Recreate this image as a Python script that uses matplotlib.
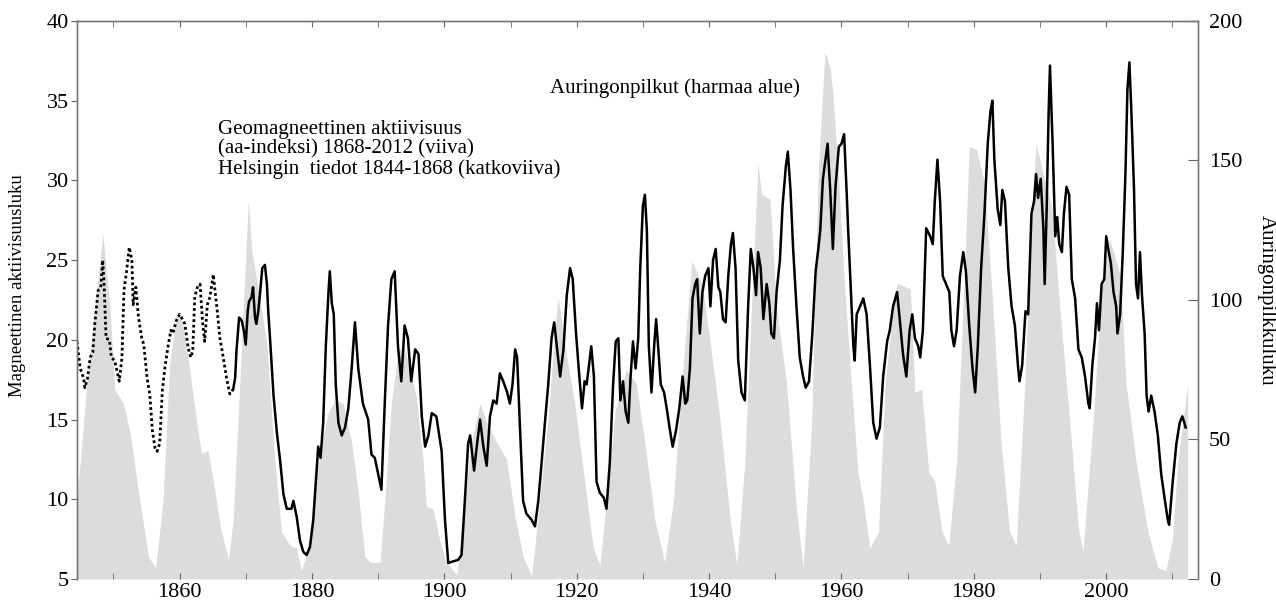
import matplotlib
matplotlib.use('Agg')
import matplotlib.pyplot as plt
from matplotlib.ticker import MultipleLocator

# Auringonpilkkuluku (harmaa alue), oikea akseli
ss_years = [1844.5, 1846.0, 1847.5, 1848.4, 1849.5, 1850.2, 1851.5, 1852.5, 1854.0, 1855.3,
            1856.4, 1857.5, 1858.5, 1859.6, 1860.3, 1861.3, 1862.6, 1863.3, 1864.3, 1865.1,
            1866.3, 1867.4, 1868.1, 1869.1, 1869.9, 1870.4, 1870.9, 1871.9, 1873.2, 1874.4,
            1875.4, 1876.7, 1877.7, 1878.4, 1879.4, 1880.5, 1881.5, 1882.5, 1883.5, 1884.7,
            1886.0, 1887.0, 1888.0, 1888.8, 1890.3, 1891.0, 1892.0, 1893.0, 1893.8, 1894.8,
            1895.8, 1896.8, 1897.3, 1898.3, 1899.3, 1900.3, 1901.9, 1903.1, 1904.1, 1905.4,
            1906.4, 1907.9, 1909.4, 1910.7, 1911.9, 1913.2, 1914.4, 1915.7, 1916.7, 1917.2,
            1918.2, 1919.7, 1921.2, 1922.5, 1923.5, 1924.5, 1925.8, 1927.5, 1929.0, 1930.3,
            1931.8, 1933.3, 1934.6, 1936.1, 1937.4, 1938.9, 1940.1, 1941.6, 1943.2, 1944.2,
            1945.4, 1946.4, 1947.4, 1947.9, 1949.2, 1950.2, 1951.7, 1953.2, 1954.2, 1955.5,
            1956.5, 1957.5, 1958.3, 1958.7, 1959.5, 1960.5, 1961.5, 1962.5, 1963.3, 1964.3,
            1965.6, 1966.6, 1967.8, 1968.4, 1970.4, 1971.1, 1972.1, 1973.2, 1974.1, 1975.2,
            1976.2, 1977.4, 1978.6, 1979.3, 1980.4, 1981.6, 1982.9, 1984.1, 1985.4, 1986.4,
            1987.7, 1988.7, 1989.4, 1990.5, 1991.8, 1993.0, 1994.5, 1995.8, 1996.5, 1998.0,
            1999.3, 2000.5, 2002.1, 2003.0, 2004.5, 2006.3, 2007.8, 2009.0, 2010.0, 2010.8,
            2012.3]
ss_values = [28, 70, 104, 124, 97, 68, 63, 53, 28, 8,
             4, 28, 77, 95, 94, 79, 56, 45, 46, 35,
             17, 7, 21, 70, 111, 136, 118, 104, 84, 42,
             17, 12, 11, 3, 10, 35, 49, 60, 64, 63,
             49, 31, 8, 6, 6, 28, 63, 81, 84, 75,
             65, 42, 26, 25, 14, 6, 1.5, 28, 49, 63,
             56, 49, 43, 22, 8, 1, 28, 58, 90, 101,
             84, 63, 35, 11, 5, 28, 60, 75, 70, 49,
             21, 6, 28, 77, 114, 106, 86, 58, 21, 5,
             42, 97, 149, 138, 136, 97, 70, 25, 4, 56,
             146, 189, 183, 174, 146, 104, 70, 38, 28, 11,
             17, 70, 97, 106, 104, 67, 68, 38, 35, 17,
             12, 42, 111, 155, 154, 142, 97, 49, 17, 12,
             70, 131, 156, 145, 133, 97, 56, 18, 10, 56,
             104, 122, 109, 70, 42, 17, 4, 3, 14, 42,
             70]

# Helsingin tiedot 1844-1868 (katkoviiva)
hel_years = [1844.5, 1845.0, 1845.5, 1845.7, 1846.1, 1846.5, 1846.9, 1847.2, 1847.7, 1848.1,
             1848.4, 1848.6, 1848.9, 1849.4, 1849.7, 1850.2, 1850.9, 1851.3, 1851.6, 1852.0,
             1852.4, 1852.8, 1853.0, 1853.4, 1853.8, 1854.3, 1854.6, 1855.1, 1855.5, 1855.9,
             1856.3, 1856.6, 1857.0, 1857.4, 1857.8, 1858.3, 1858.7, 1859.0, 1859.5, 1860.0,
             1860.3, 1860.8, 1861.3, 1861.7, 1862.0, 1862.3, 1862.7, 1863.1, 1863.5, 1863.8,
             1864.2, 1864.6, 1865.1, 1865.35, 1865.7, 1866.1, 1866.6, 1867.1, 1867.6, 1868.1]
hel_aa = [19.9, 18.2, 17.6, 17.0, 17.6, 18.9, 19.2, 21.0, 23.1, 23.3,
          25.0, 23.5, 20.1, 20.0, 18.9, 18.7, 17.4, 18.9, 23.1, 24.3,
          25.8, 25.0, 22.2, 23.3, 21.4, 20.1, 19.7, 17.6, 16.6, 14.3,
          13.2, 13.0, 13.5, 16.8, 18.3, 19.7, 20.6, 20.4, 21.2, 21.6,
          21.4, 21.0, 19.5, 18.9, 19.3, 22.7, 23.3, 23.5, 21.0, 19.9,
          22.2, 22.7, 24.1, 23.1, 21.8, 20.1, 18.9, 17.6, 16.6, 16.9]

# aa-indeksi 1868-2012 (viiva)
aa_years = [1868.1, 1868.4, 1868.6, 1869.0, 1869.4, 1869.7, 1870.0, 1870.3, 1870.5, 1870.9,
            1871.1, 1871.4, 1871.6, 1871.9, 1872.2, 1872.5, 1872.9, 1873.2, 1873.4, 1873.7,
            1874.2, 1874.7, 1875.2, 1875.7, 1876.2, 1876.9, 1877.2, 1877.7, 1878.2, 1878.7,
            1879.2, 1879.7, 1880.2, 1880.6, 1880.95, 1881.3, 1881.7, 1882.1, 1882.5, 1882.7,
            1883.0, 1883.3, 1883.6, 1884.0, 1884.5, 1885.0, 1885.5, 1886.0, 1886.5, 1887.0,
            1887.7, 1888.5, 1889.0, 1889.5, 1890.0, 1890.5, 1891.0, 1891.5, 1892.0, 1892.5,
            1893.0, 1893.5, 1894.0, 1894.5, 1895.0, 1895.6, 1896.1, 1896.6, 1897.1, 1897.6,
            1898.1, 1898.8, 1899.6, 1900.1, 1900.6, 1901.3, 1902.1, 1902.6, 1903.1, 1903.6,
            1903.9, 1904.5, 1904.9, 1905.4, 1905.9, 1906.4, 1906.9, 1907.4, 1907.9, 1908.4,
            1908.9, 1909.5, 1909.9, 1910.3, 1910.7, 1911.0, 1911.4, 1911.9, 1912.4, 1913.2,
            1913.7, 1914.2, 1914.7, 1915.2, 1915.7, 1916.2, 1916.6, 1917.0, 1917.5, 1918.0,
            1918.5, 1919.0, 1919.4, 1919.9, 1920.4, 1920.8, 1921.2, 1921.5, 1921.8, 1922.2,
            1922.6, 1923.0, 1923.5, 1924.1, 1924.5, 1925.0, 1925.5, 1925.9, 1926.3, 1926.6,
            1927.0, 1927.4, 1927.8, 1928.1, 1928.5, 1928.9, 1929.3, 1929.6, 1930.0, 1930.3,
            1930.6, 1930.9, 1931.3, 1931.7, 1932.0, 1932.3, 1932.7, 1933.2, 1933.6, 1934.1,
            1934.5, 1935.0, 1935.5, 1936.0, 1936.4, 1936.7, 1937.1, 1937.5, 1937.9, 1938.2,
            1938.6, 1939.0, 1939.4, 1939.9, 1940.2, 1940.6, 1941.0, 1941.4, 1941.7, 1942.1,
            1942.5, 1942.9, 1943.3, 1943.6, 1944.0, 1944.4, 1944.9, 1945.4, 1945.9, 1946.3,
            1946.7, 1947.1, 1947.4, 1947.8, 1948.2, 1948.7, 1949.1, 1949.4, 1949.8, 1950.2,
            1950.7, 1951.1, 1951.6, 1951.9, 1952.3, 1952.7, 1953.2, 1953.7, 1954.2, 1954.6,
            1955.1, 1955.6, 1956.1, 1956.5, 1956.8, 1957.2, 1957.9, 1958.3, 1958.7, 1959.1,
            1959.6, 1960.0, 1960.4, 1960.8, 1961.0, 1961.4, 1961.8, 1962.0, 1962.3, 1962.8,
            1963.3, 1963.8, 1964.3, 1964.8, 1965.3, 1965.8, 1966.3, 1966.9, 1967.3, 1967.8,
            1968.4, 1968.8, 1969.3, 1969.8, 1970.3, 1970.7, 1971.1, 1971.6, 1971.9, 1972.3,
            1972.8, 1973.4, 1973.8, 1974.1, 1974.5, 1974.9, 1975.3, 1975.8, 1976.3, 1976.6,
            1977.0, 1977.4, 1977.9, 1978.4, 1978.8, 1979.3, 1979.8, 1980.2, 1980.6, 1981.1,
            1981.6, 1982.1, 1982.5, 1982.8, 1983.1, 1983.6, 1984.0, 1984.3, 1984.7, 1985.2,
            1985.7, 1986.2, 1986.7, 1986.9, 1987.3, 1987.8, 1988.2, 1988.7, 1989.1, 1989.4,
            1989.7, 1990.1, 1990.5, 1990.7, 1991.0, 1991.3, 1991.5, 1991.9, 1992.3, 1992.6,
            1992.9, 1993.3, 1993.6, 1994.0, 1994.4, 1994.8, 1995.3, 1995.8, 1996.3, 1996.8,
            1997.3, 1997.5, 1997.9, 1998.3, 1998.6, 1998.9, 1999.3, 1999.7, 2000.0, 2000.3,
            2000.7, 2001.1, 2001.5, 2001.7, 2002.1, 2002.5, 2002.9, 2003.2, 2003.5, 2003.8,
            2004.2, 2004.5, 2004.8, 2005.1, 2005.4, 2005.8, 2006.1, 2006.4, 2006.8, 2007.3,
            2007.8, 2008.3, 2008.8, 2009.3, 2009.5, 2010.0, 2010.6, 2011.1, 2011.5, 2011.8,
            2012.0]
aa_values = [16.9, 17.6, 19.3, 21.4, 21.2, 20.6, 19.7, 21.8, 22.4, 22.7,
             23.3, 21.4, 21.0, 21.8, 23.1, 24.5, 24.7, 23.5, 21.8, 19.9,
             16.5, 14.2, 12.4, 10.3, 9.4, 9.4, 9.9, 8.9, 7.4, 6.7,
             6.5, 7.0, 8.7, 11.1, 13.3, 12.6, 14.8, 19.6, 23.0, 24.3,
             22.3, 21.6, 17.2, 14.8, 14.0, 14.5, 15.7, 18.2, 21.1, 18.2,
             16.0, 15.0, 12.8, 12.6, 11.6, 10.6, 16.0, 20.9, 23.8, 24.3,
             19.6, 17.4, 20.9, 20.1, 17.4, 19.4, 19.1, 15.2, 13.3, 14.0,
             15.4, 15.2, 13.0, 8.7, 6.0, 6.1, 6.2, 6.5, 9.9, 13.5,
             14.0, 11.8, 13.3, 15.0, 13.3, 12.1, 15.2, 16.2, 16.0, 17.9,
             17.4, 16.7, 16.0, 17.2, 19.4, 18.9, 14.8, 9.9, 9.1, 8.7,
             8.3, 9.9, 12.3, 14.8, 17.2, 20.1, 21.1, 19.6, 17.7, 19.4,
             22.8, 24.5, 23.8, 20.4, 17.7, 15.7, 17.4, 17.2, 18.2, 19.6,
             17.7, 11.1, 10.4, 10.1, 9.4, 12.3, 17.2, 19.9, 20.1, 16.2,
             17.4, 15.5, 14.8, 17.4, 19.9, 18.2, 20.1, 24.5, 28.4, 29.1,
             26.9, 19.6, 16.7, 19.6, 21.3, 19.6, 17.2, 16.7, 15.7, 14.3,
             13.3, 14.3, 15.7, 17.7, 16.0, 16.2, 18.2, 22.6, 23.5, 23.8,
             20.4, 23.0, 24.0, 24.5, 22.1, 25.0, 25.7, 23.3, 23.0, 21.3,
             21.1, 24.0, 26.0, 26.7, 24.5, 18.7, 16.7, 16.2, 22.1, 25.7,
             24.5, 22.8, 25.5, 24.5, 21.3, 23.5, 22.3, 20.4, 20.1, 23.0,
             25.0, 28.4, 30.9, 31.8, 29.4, 25.7, 22.1, 18.9, 17.7, 17.0,
             17.4, 20.4, 24.3, 25.7, 26.9, 30.1, 32.3, 29.4, 25.7, 29.6,
             32.1, 32.3, 32.9, 29.1, 27.0, 23.3, 19.6, 18.7, 21.6, 22.1,
             22.6, 21.6, 18.4, 14.8, 13.8, 14.5, 17.7, 19.9, 20.6, 22.1,
             23.0, 21.3, 19.1, 17.7, 20.6, 21.6, 20.1, 19.6, 18.9, 20.6,
             27.0, 26.5, 26.0, 28.7, 31.3, 28.7, 24.0, 23.5, 23.0, 20.6,
             19.6, 20.6, 24.0, 25.5, 24.3, 20.9, 18.2, 16.7, 19.6, 24.5,
             27.9, 32.3, 34.3, 35.0, 31.3, 28.2, 27.2, 29.4, 28.7, 24.5,
             22.1, 20.9, 18.2, 17.4, 18.4, 21.8, 21.6, 27.9, 28.7, 30.4,
             28.9, 30.1, 27.0, 23.5, 28.2, 34.3, 37.2, 32.3, 26.5, 27.7,
             26.0, 25.5, 27.9, 29.6, 29.1, 23.8, 22.6, 19.4, 18.9, 17.7,
             16.0, 15.7, 18.4, 20.1, 22.3, 20.6, 23.5, 23.8, 26.5, 25.7,
             24.8, 23.0, 22.1, 20.4, 21.6, 25.5, 30.4, 35.7, 37.4, 34.3,
             29.4, 23.5, 22.6, 25.5, 22.8, 20.4, 16.5, 15.5, 16.5, 15.5,
             14.0, 11.6, 10.1, 8.7, 8.4, 10.9, 13.5, 14.8, 15.2, 14.8,
             14.5]

left_ticks = [5, 10, 15, 20, 25, 30, 35, 40]
right_ticks = [0, 50, 100, 150, 200]

plt.rcParams['font.family'] = ['Liberation Serif', 'DejaVu Serif']

fig = plt.figure(figsize=(12.76, 6.06), dpi=100)
ax = fig.add_axes([0.0603, 0.0446, 0.8785, 0.9208])
ax2 = ax.twinx()

# harmaa alue oikealle akselille, viivat vasemmalle akselille paalle
ax2.fill_between(ss_years, ss_values, 0, color='#dcdcda', lw=0)
ax2.set_ylim(0, 200)
ax.set_zorder(ax2.get_zorder() + 1)
ax.patch.set_visible(False)

ax.plot(hel_years, hel_aa, color='black', lw=2.0, ls=(0, (1, 1)))
ax.plot(aa_years, aa_values, color='black', lw=1.8)

ax.set_xlim(1844.5, 2013.85)
ax.set_ylim(5, 40)
ax.set_yticks(left_ticks)
ax2.set_yticks(right_ticks)
ax.xaxis.set_major_locator(MultipleLocator(20))
ax.xaxis.set_minor_locator(MultipleLocator(10))

ax.tick_params(axis='x', which='both', direction='in', top=True, bottom=True,
               length=4, color='#666666', labelsize=16, pad=3)
ax.tick_params(axis='y', direction='out', length=4, color='#666666', labelsize=16, pad=2)
ax2.tick_params(axis='y', direction='in', length=7, color='#666666', labelsize=16, pad=8)

for a in (ax, ax2):
    for side in ('top', 'left', 'right'):
        a.spines[side].set_color('#777777')
        a.spines[side].set_linewidth(1.0)
    a.spines['bottom'].set_visible(False)

ax.set_ylabel('Magneettinen aktiivisuusluku', fontsize=13.5)
ax.yaxis.set_label_coords(-0.0455, 0.525)
ax2.set_ylabel('Auringonpilkkuluku', fontsize=15, rotation=270, va='bottom')
ax2.yaxis.set_label_coords(1.0526, 0.5)

ax.text(1865.8, 31.95,
        'Geomagneettinen aktiivisuus\n(aa-indeksi) 1868-2012 (viiva)\nHelsingin  tiedot 1844-1868 (katkoviiva)',
        fontsize=15, va='center', ha='left', linespacing=1.05)
ax.text(1915.95, 35.8, 'Auringonpilkut (harmaa alue)', fontsize=15, va='center', ha='left')

fig.savefig('out.png', dpi=100)
